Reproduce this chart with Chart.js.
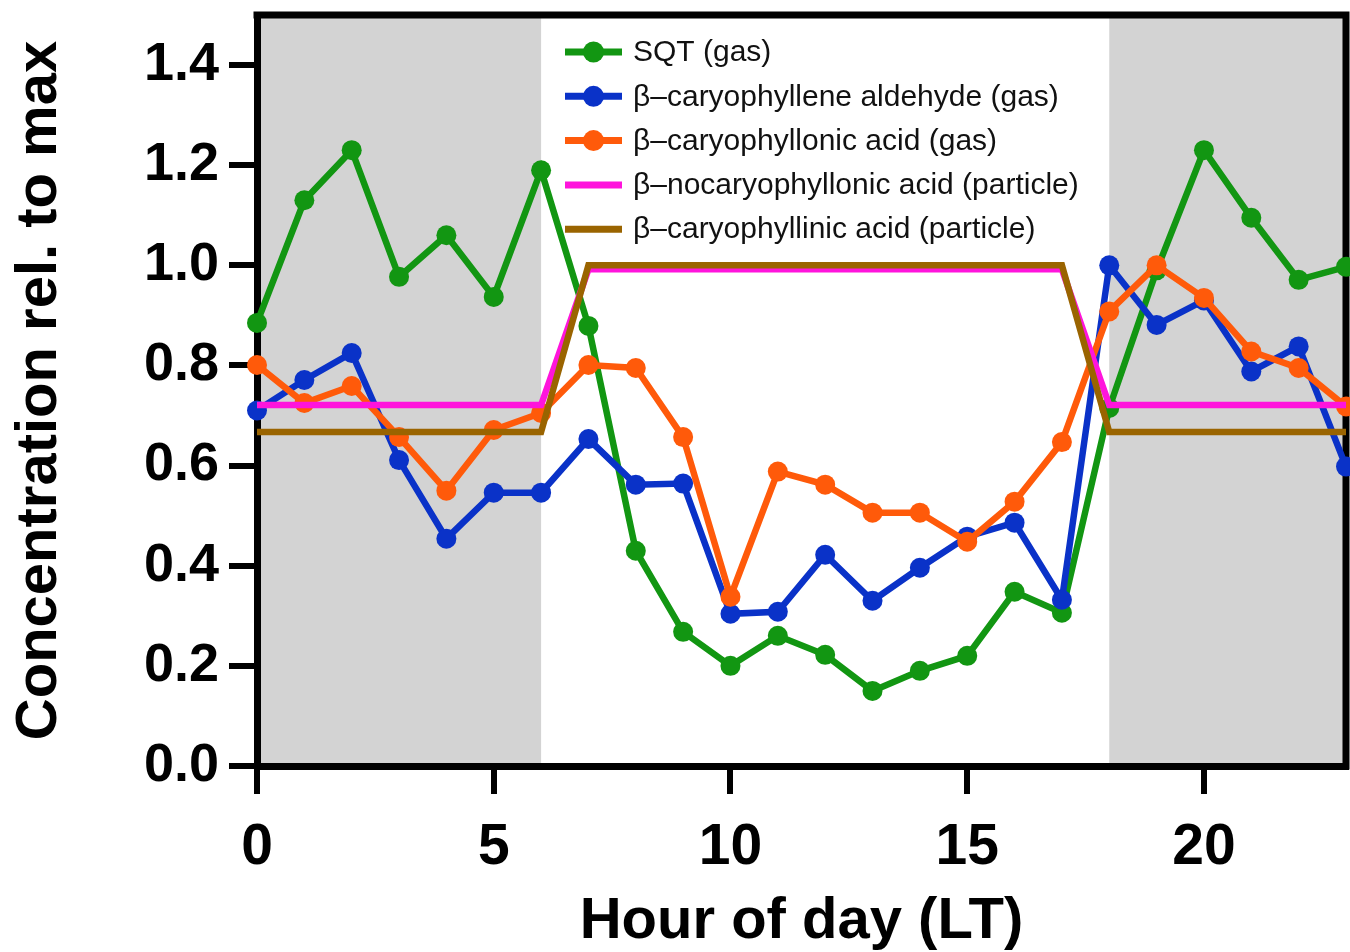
<!DOCTYPE html>
<html>
<head>
<meta charset="utf-8">
<script src="https://cdn.jsdelivr.net/npm/chart.js@4"></script>
<style>
  html, body { margin: 0; padding: 0; background: #fff; }
  #wrap { width: 1350px; height: 952px; }
</style>
</head>
<body>
<div id="wrap"><canvas id="c" width="1350" height="952"></canvas></div>
<script>
const hours = [0,1,2,3,4,5,6,7,8,9,10,11,12,13,14,15,16,17,18,19,20,21,22,23];
const sqtGas = [0.885,1.13,1.23,0.977,1.06,0.937,1.19,0.879,0.43,0.268,0.20,0.26,0.222,0.15,0.19,0.22,0.348,0.306,0.715,0.99,1.23,1.095,0.971,0.997];
const aldehydeGas = [0.71,0.771,0.825,0.611,0.454,0.546,0.546,0.653,0.562,0.564,0.304,0.308,0.422,0.33,0.396,0.458,0.486,0.332,1.0,0.881,0.93,0.788,0.838,0.598];
const caryophyllonicGas = [0.801,0.725,0.759,0.657,0.55,0.671,0.705,0.801,0.795,0.657,0.338,0.588,0.562,0.506,0.506,0.448,0.528,0.647,0.908,1.0,0.935,0.828,0.795,0.718];
const nocaryophyllonicPart = [0.721,0.721,0.721,0.721,0.721,0.721,0.721,0.992,0.992,0.992,0.992,0.992,0.992,0.992,0.992,0.992,0.992,0.992,0.721,0.721,0.721,0.721,0.721,0.721];
const caryophyllinicPart = [0.667,0.667,0.667,0.667,0.667,0.667,0.667,1.0,1.0,1.0,1.0,1.0,1.0,1.0,1.0,1.0,1.0,1.0,0.667,0.667,0.667,0.667,0.667,0.667];
const seriesLabels = ['SQT (gas)','β–caryophyllene aldehyde (gas)','β–caryophyllonic acid (gas)','β–nocaryophyllonic acid (particle)','β–caryophyllinic acid (particle)'];
const xTicks = [0,5,10,15,20];
const yTicks = [0,0.2,0.4,0.6,0.8,1.0,1.2,1.4];
const nightRanges = [[0,6],[18,23]];

const FONT = '"Liberation Sans", Arial, Helvetica, sans-serif';
const pts = arr => arr.map((v,i) => ({x: hours[i], y: v}));

function ds(label, data, color, order, markers) {
  return {
    label, data: pts(data), order,
    borderColor: color, backgroundColor: color,
    pointBackgroundColor: color, pointBorderColor: color,
    borderWidth: 6.5, pointRadius: markers ? 10 : 0, pointBorderWidth: 0,
    pointHoverRadius: markers ? 10 : 0,
    tension: 0, clip: false, showLine: true, _markers: markers
  };
}

const shadePlugin = {
  id: 'shade',
  beforeDraw(chart) {
    const {ctx, chartArea: a, scales: {x}} = chart;
    ctx.save();
    ctx.fillStyle = '#d3d3d3';
    nightRanges.forEach(([s,e]) => {
      const x0 = x.getPixelForValue(s), x1 = x.getPixelForValue(e);
      ctx.fillRect(x0, a.top, x1 - x0, a.bottom - a.top);
    });
    ctx.restore();
  }
};

const framePlugin = {
  id: 'frame',
  beforeDatasetsDraw(chart) {
    const {ctx, chartArea: a} = chart;
    ctx.save();
    ctx.strokeStyle = '#000';
    ctx.lineWidth = 7;
    ctx.lineCap = 'square';
    ctx.beginPath();
    ctx.moveTo(a.left, a.top);
    ctx.lineTo(a.right, a.top);
    ctx.lineTo(a.right, a.bottom);
    ctx.stroke();
    ctx.restore();
  }
};

const legendPlugin = {
  id: 'insideLegend',
  afterDatasetsDraw(chart) {
    const {ctx} = chart;
    const x0 = 565, y0 = 52, dy = 44.3, len = 57;
    ctx.save();
    ctx.font = '30px ' + FONT;
    ctx.textBaseline = 'middle';
    chart.data.datasets.forEach((d, i) => {
      const y = y0 + i * dy;
      ctx.strokeStyle = d.borderColor;
      ctx.lineWidth = 7;
      ctx.beginPath();
      ctx.moveTo(x0, y);
      ctx.lineTo(x0 + len, y);
      ctx.stroke();
      if (d._markers) {
        ctx.fillStyle = d.borderColor;
        ctx.beginPath();
        ctx.arc(x0 + len / 2, y, 10.5, 0, Math.PI * 2);
        ctx.fill();
      }
      ctx.fillStyle = '#111';
      ctx.fillText(d.label, x0 + len + 11, y + 1);
    });
    ctx.restore();
  }
};

new Chart(document.getElementById('c'), {
  type: 'line',
  data: {
    datasets: [
      ds(seriesLabels[0], sqtGas, '#129612', 4, true),
      ds(seriesLabels[1], aldehydeGas, '#0a32c8', 3, true),
      ds(seriesLabels[2], caryophyllonicGas, '#ff5a0a', 2, true),
      ds(seriesLabels[3], nocaryophyllonicPart, '#ff14dc', 1, false),
      ds(seriesLabels[4], caryophyllinicPart, '#9a6400', 0, false)
    ]
  },
  options: {
    responsive: false,
    animation: false,
    devicePixelRatio: 1,
    layout: { autoPadding: false, padding: { top: 15, right: 4, left: 0, bottom: 0 } },
    plugins: { legend: { display: false }, tooltip: { enabled: false } },
    scales: {
      x: {
        type: 'linear', position: 'bottom', min: 0, max: 23,
        afterBuildTicks: s => { s.ticks = xTicks.map(v => ({value: v})); },
        afterFit: s => { s.height = 186; s.paddingLeft = 0; s.paddingRight = 0; },
        ticks: { autoSkip: false, maxRotation: 0, color: '#000', padding: 20,
                 font: { family: FONT, size: 57, weight: 'bold' },
                 callback: v => String(v) },
        grid: { display: true, drawOnChartArea: false, drawTicks: true, tickLength: 28, lineWidth: 6, color: '#000' },
        border: { display: true, width: 7, color: '#000' },
        title: { display: true, text: 'Hour of day (LT)', color: '#000', padding: { top: 0, bottom: -5 },
                 font: { family: FONT, size: 58, weight: 'bold' } }
      },
      y: {
        type: 'linear', min: 0, max: 1.5,
        afterBuildTicks: s => { s.ticks = yTicks.map(v => ({value: v})); },
        afterFit: s => { s.width = 257; s.paddingTop = 0; s.paddingBottom = 0; },
        ticks: { autoSkip: false, color: '#000', padding: 10,
                 font: { family: FONT, size: 54, weight: 'bold' },
                 callback: v => Number(v).toFixed(1) },
        grid: { display: true, drawOnChartArea: false, drawTicks: true, tickLength: 28, lineWidth: 6, color: '#000' },
        border: { display: true, width: 7, color: '#000' },
        title: { display: true, text: 'Concentration rel. to max', color: '#000', padding: { top: 5, bottom: 0 },
                 font: { family: FONT, size: 58, weight: 'bold' } }
      }
    }
  },
  plugins: [shadePlugin, framePlugin, legendPlugin]
});
</script>
</body>
</html>
